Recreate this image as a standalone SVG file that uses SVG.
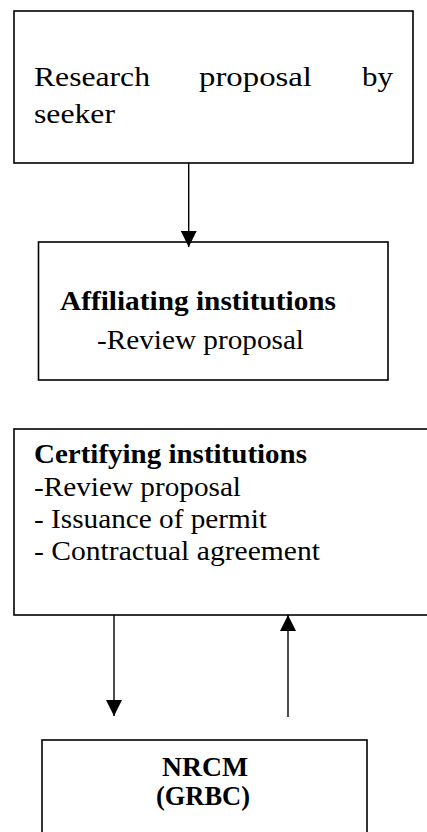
<svg xmlns="http://www.w3.org/2000/svg" width="427" height="832" viewBox="0 0 427 832">
<style>
.box{fill:#fff;stroke:#000;stroke-width:1.6}
.t{font-family:"Liberation Serif","Times New Roman",serif;font-size:28px;fill:#000}
.b{font-weight:bold}
.c{stroke:#000;stroke-width:1.4;fill:none}
</style>
<defs>
<marker id="ah" markerUnits="userSpaceOnUse" markerWidth="16" markerHeight="16" refX="15" refY="7.5" orient="auto" viewBox="0 0 15 15">
<path d="M0,0 L15,7.5 L0,15 Z" fill="#000"/>
</marker>
</defs>
<rect x="0" y="0" width="427" height="832" fill="#fff"/>
<g id="n1">
<rect class="box" x="14" y="11" width="399" height="152"/>
<text class="t" x="34" y="86" textLength="116" lengthAdjust="spacingAndGlyphs">Research</text>
<text class="t" x="199" y="86" textLength="113" lengthAdjust="spacingAndGlyphs">proposal</text>
<text class="t" x="362" y="86" textLength="31" lengthAdjust="spacingAndGlyphs">by</text>
<text class="t" x="34" y="123" textLength="81" lengthAdjust="spacingAndGlyphs">seeker</text>
</g>
<g id="n2">
<rect class="box" x="38.5" y="242" width="349.5" height="138"/>
<text class="t b" x="60" y="310" textLength="276" lengthAdjust="spacingAndGlyphs">Affiliating institutions</text>
<text class="t" x="97" y="349" textLength="207" lengthAdjust="spacingAndGlyphs">-Review proposal</text>
</g>
<g id="n3">
<rect class="box" x="14" y="429" width="420" height="186"/>
<text class="t b" x="34" y="463" textLength="273" lengthAdjust="spacingAndGlyphs">Certifying institutions</text>
<text class="t" x="34" y="496" textLength="207" lengthAdjust="spacingAndGlyphs">-Review proposal</text>
<text class="t" x="34" y="528" textLength="233" lengthAdjust="spacingAndGlyphs">- Issuance of permit</text>
<text class="t" x="34" y="560" textLength="286" lengthAdjust="spacingAndGlyphs">- Contractual agreement</text>
</g>
<g id="n4">
<rect class="box" x="42" y="740" width="325" height="100"/>
<text class="t b" x="162" y="776" textLength="86" lengthAdjust="spacingAndGlyphs">NRCM</text>
<text class="t b" x="156" y="805" textLength="94" lengthAdjust="spacingAndGlyphs">(GRBC)</text>
</g>
<g id="connectors">
<line class="c" x1="188.7" y1="163" x2="188.7" y2="247" marker-end="url(#ah)"/>
<line class="c" x1="114" y1="615" x2="114" y2="716" marker-end="url(#ah)"/>
<line class="c" x1="288" y1="717" x2="288" y2="615" marker-end="url(#ah)"/>
</g>
</svg>
